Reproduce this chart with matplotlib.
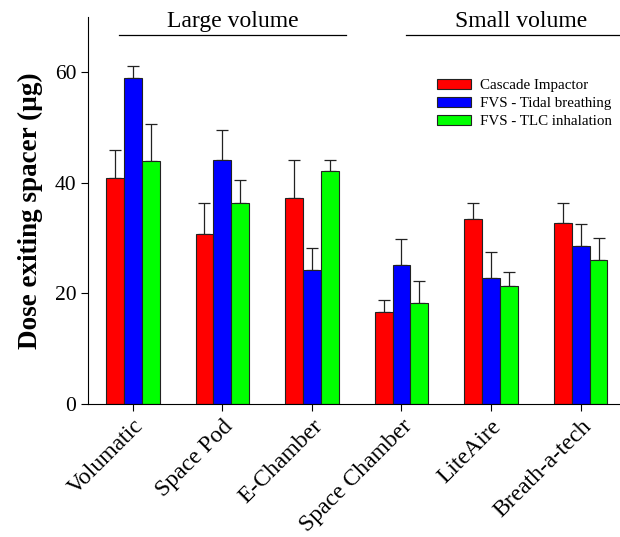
import numpy as np
import matplotlib.pyplot as plt

plt.rcParams['font.family'] = ['Liberation Serif', 'DejaVu Serif']

# spacer names and measured doses
spacers = ["Volumatic", "Space Pod", "E-Chamber", "Space Chamber", "LiteAire", "Breath-a-tech"]
series = ["Cascade Impactor", "FVS - Tidal breathing", "FVS - TLC inhalation"]
cascade = [40.8, 30.8, 37.3, 16.7, 33.4, 32.8]
tidal = [58.9, 44.2, 24.3, 25.2, 22.7, 28.5]
tlc = [43.9, 36.3, 42.2, 18.2, 21.3, 26.0]
cascade_err = [5.2, 5.6, 6.9, 2.1, 3.0, 3.6]
tidal_err = [2.3, 5.3, 4.0, 4.6, 4.8, 4.1]
tlc_err = [6.8, 4.2, 2.0, 4.0, 2.6, 4.1]
colors = ["#ff0000", "#0000ff", "#00ff00"]

fig = plt.figure(figsize=(6.2, 5.37), dpi=100)
ax = fig.add_axes([0.142, 0.248, 0.858, 0.72])

x = np.arange(len(spacers))
w = 0.2
for i, (vals, errs) in enumerate([(cascade, cascade_err), (tidal, tidal_err), (tlc, tlc_err)]):
    pos = x + (i - 1) * w
    ax.bar(pos, vals, w, color=colors[i], edgecolor="#222222", linewidth=0.8,
           label=series[i], zorder=2)
    ax.errorbar(pos, vals, yerr=[np.zeros(len(errs)), errs], fmt="none",
                ecolor="#222222", elinewidth=0.9, capsize=4, capthick=0.9, zorder=1)

ax.set_xlim(-0.5, 5.44)
ax.set_ylim(0, 70)
ax.set_yticks([0, 20, 40, 60])
ax.set_xticks(x)
ax.set_xticklabels(spacers, rotation=45, ha="right", rotation_mode="anchor", fontsize=17)
ax.tick_params(axis="y", labelsize=15.5, length=5)
ax.tick_params(axis="x", length=5)
ax.set_ylabel("Dose exiting spacer (\u00b5g)", fontsize=19.5, fontweight="bold", labelpad=8)
ax.spines["top"].set_visible(False)
ax.spines["right"].set_visible(False)

# group headings
ax.plot([-0.15, 2.38], [66.7, 66.7], color="black", lw=0.9, clip_on=False)
ax.text(1.12, 69.3, "Large volume", ha="center", va="center", fontsize=17, clip_on=False)
ax.plot([3.05, 5.44], [66.7, 66.7], color="black", lw=0.9, clip_on=False)
ax.text(4.34, 69.3, "Small volume", ha="center", va="center", fontsize=17, clip_on=False)

ax.legend(loc="upper left", bbox_to_anchor=(0.63, 0.875), frameon=False, fontsize=10.8,
          handlelength=2.3, handleheight=0.65, handletextpad=0.6, labelspacing=0.3)

fig.savefig("out.png", dpi=100)
